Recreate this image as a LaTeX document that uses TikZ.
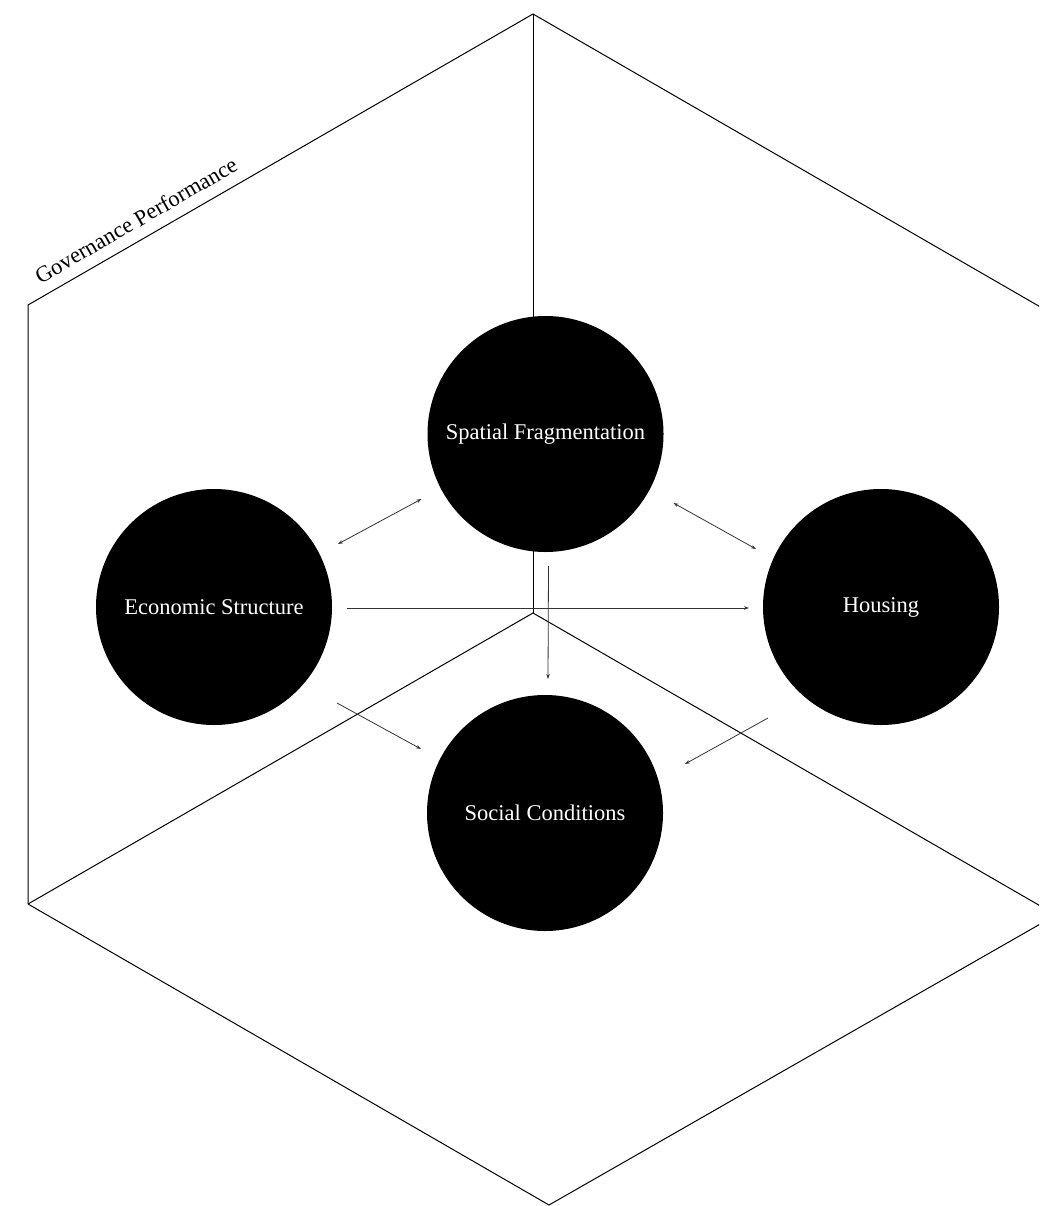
\documentclass[tikz,border=0pt]{standalone}
\usepackage{fontspec}
\setmainfont{Liberation Serif}
\usetikzlibrary{arrows.meta,calc}
\begin{document}
\begin{tikzpicture}[x=1pt,y=-1pt,
  edge/.style={black,line width=1pt},
  blob/.style={circle,fill=black,minimum size=236pt,inner sep=0pt,text=white,font=\fontsize{22.5}{26}\selectfont},
  arr/.style={draw=black!80,line width=0.8pt,-{Stealth[length=5pt,width=3.5pt]}},
  biarr/.style={draw=black!80,line width=0.8pt,{Stealth[length=5pt,width=3.5pt]}-{Stealth[length=5pt,width=3.5pt]}}
]
\useasboundingbox (0,0) rectangle (1039,1206);
\clip (0,0) rectangle (1039,1206);
% room corner
\coordinate (T) at (533,14);
\coordinate (C) at (533,613);
\coordinate (LU) at (28,305);
\coordinate (LL) at (28,904);
\coordinate (RU) at (1056,316);
\coordinate (RL) at (1056,915);
\coordinate (B) at (549,1205);
\draw[edge] (LL) -- (LU) -- (T) -- (RU);
\draw[edge] (T) -- (C);
\draw[edge] (LL) -- (C) -- (RL);
\draw[edge] (LL) -- (B) -- (RL);
\node[rotate=30,font=\fontsize{22.5}{26}\selectfont,anchor=south,inner sep=2pt] (gov) at (141,229) {Governance Performance};
% circles
\node[blob] (spatial) at (545.5,434) {Spatial Fragmentation};
\node[blob] (econ) at (214,607) {Economic Structure};
\node[blob] (housing) at (881,607) {Housing};
\node[blob] (social) at (545,813) {Social Conditions};
% arrows
\draw[biarr] ($(econ)+(124,-63)$) -- ($(spatial)+(-124,65)$);
\draw[biarr] ($(spatial)+(128,69)$) -- ($(housing)+(-125,-58)$);
\draw[arr] ($(econ)+(133,1)$) -- ($(housing)+(-132,1)$);
\draw[arr] ($(spatial)+(3,132)$) -- ($(social)+(3,-134)$);
\draw[arr] ($(econ)+(123,96)$) -- ($(social)+(-124,-64)$);
\draw[arr] ($(housing)+(-113,111)$) -- ($(social)+(140,-49)$);
\end{tikzpicture}
\end{document}
